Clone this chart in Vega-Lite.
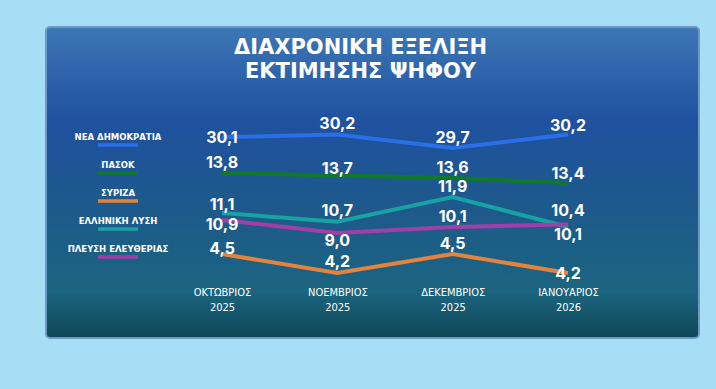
{
  "$schema": "https://vega.github.io/schema/vega-lite/v6.json",
  "autosize": {"type": "none"},
  "width": 653,
  "height": 311,
  "padding": {"left": 46, "top": 27, "right": 17, "bottom": 51},
  "background": "#a6def5",
  "title": {
    "text": ["ΔΙΑΧΡΟΝΙΚΗ  ΕΞΕΛΙΞΗ", "ΕΚΤΙΜΗΣΗΣ  ΨΗΦΟΥ"],
    "orient": "top",
    "anchor": "middle",
    "baseline": "top",
    "offset": -55,
    "dx": -12,
    "font": "DejaVu Sans",
    "fontSize": 21,
    "fontWeight": "bold",
    "lineHeight": 24,
    "color": "#ffffff"
  },
  "config": {
    "locale": {"number": {"decimal": ",", "thousands": ".", "grouping": [3], "currency": ["", " €"]}},
    "view": {
      "fill": {
        "gradient": "linear", "x1": 0, "y1": 0, "x2": 0, "y2": 1,
        "stops": [
          {"offset": 0, "color": "#3d77b5"},
          {"offset": 0.3, "color": "#1f51a0"},
          {"offset": 0.6, "color": "#1d5a8a"},
          {"offset": 0.85, "color": "#1b6580"},
          {"offset": 1, "color": "#0f4656"}
        ]
      },
      "stroke": "#6f98c4",
      "strokeWidth": 2,
      "cornerRadius": 4
    }
  },
  "data": {
    "values": [
      {"month": "ΟΚΤΩΒΡΙΟΣ 2025", "party": "ΝΕΑ ΔΗΜΟΚΡΑΤΙΑ", "value": 30.1},
      {"month": "ΝΟΕΜΒΡΙΟΣ 2025", "party": "ΝΕΑ ΔΗΜΟΚΡΑΤΙΑ", "value": 30.2},
      {"month": "ΔΕΚΕΜΒΡΙΟΣ 2025", "party": "ΝΕΑ ΔΗΜΟΚΡΑΤΙΑ", "value": 29.7},
      {"month": "ΙΑΝΟΥΑΡΙΟΣ 2026", "party": "ΝΕΑ ΔΗΜΟΚΡΑΤΙΑ", "value": 30.2},
      {"month": "ΟΚΤΩΒΡΙΟΣ 2025", "party": "ΠΑΣΟΚ", "value": 13.8},
      {"month": "ΝΟΕΜΒΡΙΟΣ 2025", "party": "ΠΑΣΟΚ", "value": 13.7},
      {"month": "ΔΕΚΕΜΒΡΙΟΣ 2025", "party": "ΠΑΣΟΚ", "value": 13.6},
      {"month": "ΙΑΝΟΥΑΡΙΟΣ 2026", "party": "ΠΑΣΟΚ", "value": 13.4},
      {"month": "ΟΚΤΩΒΡΙΟΣ 2025", "party": "ΣΥΡΙΖΑ", "value": 4.5},
      {"month": "ΝΟΕΜΒΡΙΟΣ 2025", "party": "ΣΥΡΙΖΑ", "value": 4.2},
      {"month": "ΔΕΚΕΜΒΡΙΟΣ 2025", "party": "ΣΥΡΙΖΑ", "value": 4.5},
      {"month": "ΙΑΝΟΥΑΡΙΟΣ 2026", "party": "ΣΥΡΙΖΑ", "value": 4.2},
      {"month": "ΟΚΤΩΒΡΙΟΣ 2025", "party": "ΕΛΛΗΝΙΚΗ ΛΥΣΗ", "value": 11.1},
      {"month": "ΝΟΕΜΒΡΙΟΣ 2025", "party": "ΕΛΛΗΝΙΚΗ ΛΥΣΗ", "value": 10.7},
      {"month": "ΔΕΚΕΜΒΡΙΟΣ 2025", "party": "ΕΛΛΗΝΙΚΗ ΛΥΣΗ", "value": 11.9},
      {"month": "ΙΑΝΟΥΑΡΙΟΣ 2026", "party": "ΕΛΛΗΝΙΚΗ ΛΥΣΗ", "value": 10.1},
      {"month": "ΟΚΤΩΒΡΙΟΣ 2025", "party": "ΠΛΕΥΣΗ ΕΛΕΥΘΕΡΙΑΣ", "value": 10.9},
      {"month": "ΝΟΕΜΒΡΙΟΣ 2025", "party": "ΠΛΕΥΣΗ ΕΛΕΥΘΕΡΙΑΣ", "value": 9.0},
      {"month": "ΔΕΚΕΜΒΡΙΟΣ 2025", "party": "ΠΛΕΥΣΗ ΕΛΕΥΘΕΡΙΑΣ", "value": 10.1},
      {"month": "ΙΑΝΟΥΑΡΙΟΣ 2026", "party": "ΠΛΕΥΣΗ ΕΛΕΥΘΕΡΙΑΣ", "value": 10.4}
    ]
  },
  "encoding": {
    "x": {
      "field": "month",
      "type": "ordinal",
      "scale": {
        "type": "point",
        "padding": 0,
        "domain": ["ΟΚΤΩΒΡΙΟΣ 2025", "ΝΟΕΜΒΡΙΟΣ 2025", "ΔΕΚΕΜΒΡΙΟΣ 2025", "ΙΑΝΟΥΑΡΙΟΣ 2026"],
        "range": [176, 522]
      },
      "axis": {
        "title": null,
        "domain": false,
        "ticks": false,
        "grid": false,
        "labelAngle": 0,
        "labelExpr": "split(datum.label, ' ')",
        "labelColor": "#ffffff",
        "labelFont": "Liberation Sans Narrow, DejaVu Sans Condensed, Roboto, sans-serif",
        "labelFontSize": 11,
        "labelLineHeight": 15,
        "labelBaseline": "top",
        "labelPadding": 0,
        "offset": -52
      }
    },
    "y": {
      "field": "value",
      "type": "quantitative",
      "scale": {
        "zero": false,
        "nice": false,
        "domain": [4.2, 4.5, 9.0, 10.1, 10.9, 11.1, 11.9, 13.4, 13.8, 29.7, 30.2],
        "range": [246, 227, 206, 200, 193, 186, 170, 156, 146, 121, 107.5]
      },
      "axis": null
    }
  },
  "layer": [
    {
      "mark": {"type": "line", "strokeWidth": 4},
      "encoding": {
        "color": {
          "field": "party",
          "type": "nominal",
          "scale": {
            "domain": ["ΝΕΑ ΔΗΜΟΚΡΑΤΙΑ", "ΠΑΣΟΚ", "ΣΥΡΙΖΑ", "ΕΛΛΗΝΙΚΗ ΛΥΣΗ", "ΠΛΕΥΣΗ ΕΛΕΥΘΕΡΙΑΣ"],
            "range": ["#2b6fe6", "#0e7a28", "#e4843c", "#17a2a4", "#a13fa8"]
          },
          "legend": {
            "title": null,
            "orient": "none",
            "legendX": 60,
            "legendY": 98,
            "direction": "vertical",
            "symbolType": "M-2,0.8L2,0.8",
            "symbolSize": 400,
            "symbolStrokeWidth": 3.5,
            "labelAlign": "center",
            "labelOffset": -12,
            "labelColor": "#ffffff",
            "labelFont": "DejaVu Sans",
            "labelFontWeight": "bold",
            "labelFontSize": 8.5,
            "labelLimit": 200,
            "rowPadding": 1,
            "padding": 0
          }
        }
      }
    },
    {
      "mark": {
        "type": "text",
        "color": "#ffffff",
        "font": "Inter",
        "fontWeight": "bold",
        "fontSize": 16,
        "baseline": "middle",
        "align": "center",
        "dy": {"expr": "datum.month=='ΟΚΤΩΒΡΙΟΣ 2025' ? (datum.party=='ΝΕΑ ΔΗΜΟΚΡΑΤΙΑ' ? 1 : datum.party=='ΠΛΕΥΣΗ ΕΛΕΥΘΕΡΙΑΣ' ? 5 : datum.party=='ΠΑΣΟΚ' ? -10 : datum.party=='ΕΛΛΗΝΙΚΗ ΛΥΣΗ' ? -8 : -5) : datum.month=='ΝΟΕΜΒΡΙΟΣ 2025' ? (datum.party=='ΠΛΕΥΣΗ ΕΛΕΥΘΕΡΙΑΣ' ? 8 : datum.party=='ΠΑΣΟΚ' ? -7 : -11) : datum.month=='ΙΑΝΟΥΑΡΙΟΣ 2026' ? (datum.party=='ΕΛΛΗΝΙΚΗ ΛΥΣΗ' ? 8 : datum.party=='ΣΥΡΙΖΑ' ? 1 : datum.party=='ΠΛΕΥΣΗ ΕΛΕΥΘΕΡΙΑΣ' ? -13 : -9) : -10"}
      },
      "encoding": {
        "text": {"field": "value", "type": "quantitative", "format": ".1f"}
      }
    }
  ]
}
